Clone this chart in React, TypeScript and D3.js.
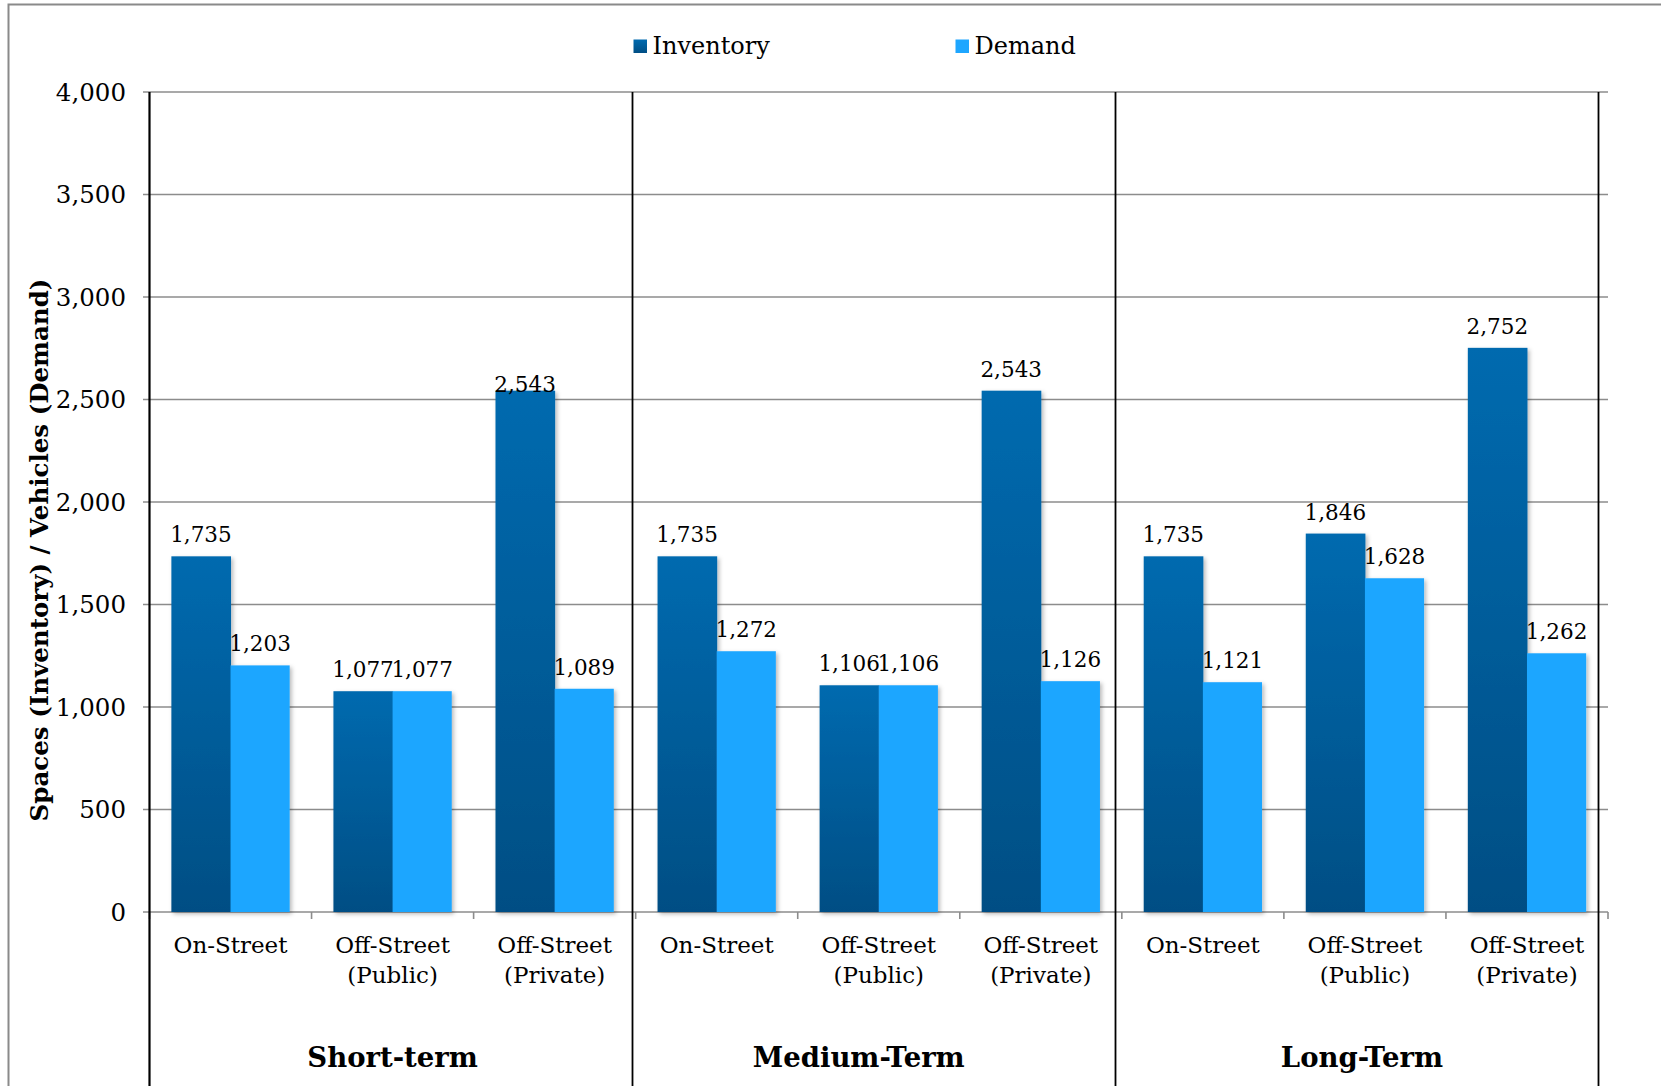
import React from 'react';
import * as d3 from 'd3';

// Parking supply vs. demand by time period and facility type
const groups = ['Short-term', 'Medium-Term', 'Long-Term'];
const categoryLines = [['On-Street'], ['Off-Street', '(Public)'], ['Off-Street', '(Private)']];
const seriesNames = ['Inventory', 'Demand'];
const inventory = [1735, 1077, 2543, 1735, 1106, 2543, 1735, 1846, 2752];
const demand = [1203, 1077, 1089, 1272, 1106, 1126, 1121, 1628, 1262];
const yTicks = [0, 500, 1000, 1500, 2000, 2500, 3000, 3500, 4000];
const yTitle = 'Spaces (Inventory) / Vehicles (Demand)';

// small manual label nudges (slot index, series index) -> dy
const labelNudge: Record<string, number> = { '2-0': 15 };
// horizontal nudge for group captions
const groupNudge = [0, -20, -3];

const W = 1661;
const H = 1086;
const FONT = "'DejaVu Serif', Georgia, serif";

export default function App() {
  const plotLeft = 149.5;
  const plotRight = 1608;
  const plotTop = 92;
  const plotBottom = 912;

  const slots = d3.range(groups.length * categoryLines.length);
  const x = d3
    .scaleBand<number>()
    .domain(slots)
    .range([plotLeft, plotRight])
    .paddingInner(0.27)
    .paddingOuter(0.135);
  const xs = d3.scaleBand<number>().domain([0, 1]).range([0, x.bandwidth()]);
  const y = d3.scaleLinear().domain([0, 4000]).range([plotBottom, plotTop]);
  const step = x.step();
  const slotLeft = (i: number) => plotLeft + i * step;
  const sep = d3.scaleLinear().domain([0, groups.length]).range([plotLeft, 1598.5]);
  const fmt = d3.format(',');

  const values = [inventory, demand];

  return (
    <svg
      width={W}
      height={H}
      style={{ position: 'absolute', left: 0, top: 0, background: '#fff' }}
      fontFamily={FONT}
    >
      <defs>
        <linearGradient id="invGrad" x1="0" y1="0" x2="0" y2="1">
          <stop offset="0" stopColor="#006AAF" />
          <stop offset="1" stopColor="#004E84" />
        </linearGradient>
        <filter id="barShadow" x="-20%" y="-5%" width="140%" height="110%">
          <feDropShadow dx="2" dy="2" stdDeviation="2" floodColor="#000" floodOpacity="0.28" />
        </filter>
      </defs>

      {/* outer frame */}
      <rect x={8.5} y={4.5} width={W + 20} height={H + 20} fill="none" stroke="#8a8a8a" strokeWidth={2} />

      {/* legend */}
      {seriesNames.map((s, i) => {
        const lx = i === 0 ? 633.5 : 955.5;
        return (
          <g key={s}>
            <rect x={lx} y={39.5} width={13.5} height={13.5} fill={i === 0 ? 'url(#invGrad)' : '#1EA6FF'} />
            <text x={lx + 19} y={53.5} fontSize={24} fill="#000">
              {s}
            </text>
          </g>
        );
      })}

      {/* horizontal gridlines + y ticks */}
      {yTicks.map((t) => (
        <g key={t}>
          <line x1={143} x2={plotRight} y1={y(t)} y2={y(t)} stroke="#8c8c8c" strokeWidth={1.6} />
          <text x={126} y={y(t) + 8.5} fontSize={24.5} textAnchor="end" fill="#000">
            {fmt(t)}
          </text>
        </g>
      ))}

      {/* category tick marks below axis */}
      {d3.range(slots.length + 1).map((i) => (
        <line key={i} x1={slotLeft(i)} x2={slotLeft(i)} y1={plotBottom} y2={plotBottom + 7} stroke="#8c8c8c" strokeWidth={1.6} />
      ))}

      {/* bars */}
      {slots.map((i) => (
        <g key={i} filter="url(#barShadow)">
          {values.map((vals, s) => (
            <rect
              key={s}
              x={(x(i) as number) + (xs(s) as number)}
              y={y(vals[i])}
              width={xs.bandwidth() + (s === 0 ? 0.5 : 0)}
              height={plotBottom - y(vals[i])}
              fill={s === 0 ? 'url(#invGrad)' : '#1EA6FF'}
            />
          ))}
        </g>
      ))}

      {/* value labels */}
      {slots.map((i) =>
        values.map((vals, s) => (
          <text
            key={`${i}-${s}`}
            x={(x(i) as number) + (xs(s) as number) + xs.bandwidth() / 2}
            y={y(vals[i]) - 14 + (labelNudge[`${i}-${s}`] || 0)}
            fontSize={21.5}
            textAnchor="middle"
            fill="#000"
          >
            {fmt(vals[i])}
          </text>
        ))
      )}

      {/* y axis line and group separators */}
      {d3.range(groups.length + 1).map((g) => (
        <line key={g} x1={sep(g)} x2={sep(g)} y1={plotTop} y2={H} stroke="#000" strokeWidth={g === 0 ? 2.2 : 1.8} />
      ))}

      {/* category labels */}
      {slots.map((i) => {
        const lines = categoryLines[i % categoryLines.length];
        const cx = slotLeft(i) + step / 2;
        return (
          <text key={i} x={cx} y={953} fontSize={23} textAnchor="middle" fill="#000">
            {lines.map((ln, k) => (
              <tspan key={k} x={cx} dy={k === 0 ? 0 : 30}>
                {ln}
              </tspan>
            ))}
          </text>
        );
      })}

      {/* group labels */}
      {groups.map((g, gi) => (
        <text
          key={g}
          x={slotLeft(gi * 3) + (step * 3) / 2 + groupNudge[gi]}
          y={1067}
          fontSize={27.5}
          fontWeight="bold"
          textAnchor="middle"
          fill="#000"
        >
          {g}
        </text>
      ))}

      {/* y axis title */}
      <text
        transform={`translate(48,550) rotate(-90)`}
        fontSize={24.5}
        fontWeight="bold"
        textAnchor="middle"
        fill="#000"
      >
        {yTitle}
      </text>
    </svg>
  );
}
